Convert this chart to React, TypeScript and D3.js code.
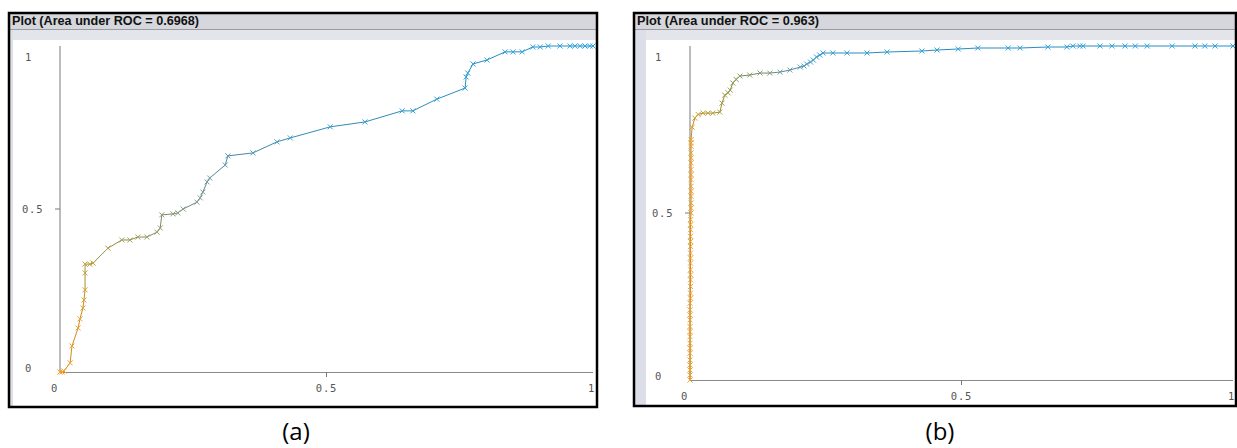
import React from 'react';
import * as d3 from 'd3';

// ROC points
const aFpr = [0, 0.004, 0.0075, 0.019, 0.0225, 0.034, 0.0375, 0.043, 0.045, 0.047, 0.047, 0.047, 0.056, 0.062, 0.09, 0.116, 0.131, 0.146, 0.163, 0.182, 0.188, 0.191, 0.212, 0.221, 0.231, 0.257, 0.263, 0.268, 0.276, 0.281, 0.31, 0.315, 0.362, 0.407, 0.432, 0.507, 0.572, 0.642, 0.662, 0.707, 0.76, 0.762, 0.765, 0.775, 0.801, 0.835, 0.85, 0.867, 0.887, 0.901, 0.916, 0.938, 0.957, 0.966, 0.976, 0.985, 0.994, 1];
const aTpr = [0, 0, 0.003, 0.028, 0.08, 0.135, 0.163, 0.196, 0.221, 0.252, 0.304, 0.331, 0.331, 0.334, 0.38, 0.405, 0.405, 0.414, 0.414, 0.429, 0.442, 0.482, 0.485, 0.488, 0.5, 0.521, 0.534, 0.552, 0.583, 0.595, 0.635, 0.663, 0.672, 0.706, 0.718, 0.752, 0.767, 0.801, 0.801, 0.837, 0.871, 0.905, 0.917, 0.945, 0.957, 0.982, 0.982, 0.982, 0.997, 0.997, 1, 1, 1, 1, 1, 1, 1, 1];

const bFpr = [
  0, 0, 0, 0, 0, 0, 0, 0, 0, 0, 0, 0, 0, 0, 0,
  0.001, 0.001, 0.001, 0.001, 0.001, 0.001, 0.001, 0.001, 0.001, 0.001, 0.001, 0.001, 0.001, 0.001, 0.001,
  0.002, 0.002, 0.002, 0.002, 0.002, 0.002, 0.002, 0.002, 0.002, 0.002, 0.002, 0.002, 0.002, 0.002, 0.002,
  0.004, 0.009, 0.015, 0.024, 0.033, 0.042, 0.055, 0.059, 0.064, 0.07, 0.074, 0.079, 0.085, 0.092, 0.11, 0.129, 0.147, 0.166, 0.184, 0.203, 0.21, 0.215, 0.222, 0.227, 0.233, 0.239, 0.245, 0.263, 0.289, 0.326, 0.363, 0.427, 0.455, 0.494, 0.53, 0.586, 0.608, 0.659, 0.694, 0.705, 0.718, 0.724, 0.755, 0.777, 0.801, 0.82, 0.842, 0.888, 0.93, 0.948, 0.967, 1
];
const bTpr = [
  0, 0.015, 0.03, 0.045, 0.06, 0.08, 0.095, 0.11, 0.13, 0.145, 0.16, 0.18, 0.195, 0.21, 0.23,
  0.245, 0.26, 0.28, 0.3, 0.315, 0.33, 0.35, 0.365, 0.38, 0.4, 0.415, 0.43, 0.45, 0.465, 0.48,
  0.5, 0.515, 0.53, 0.55, 0.565, 0.58, 0.6, 0.615, 0.63, 0.65, 0.665, 0.68, 0.7, 0.71, 0.72,
  0.757, 0.784, 0.795, 0.799, 0.799, 0.799, 0.802, 0.829, 0.853, 0.86, 0.868, 0.889, 0.9, 0.91, 0.913, 0.919, 0.919, 0.922, 0.928, 0.937, 0.94, 0.946, 0.952, 0.958, 0.967, 0.973, 0.979, 0.979, 0.979, 0.979, 0.982, 0.985, 0.988, 0.991, 0.994, 0.994, 0.994, 0.997, 0.997, 1, 1, 1, 1, 1, 1, 1, 1, 1, 1, 1, 1, 1
];

const titles = ['Plot (Area under ROC = 0.6968)', 'Plot (Area under ROC = 0.963)'];
const captions = ['(a)', '(b)'];
const tickValues = [0, 0.5, 1];
const tickLabels = ['0', '0.5', '1'];

const panels = [
  {
    fpr: aFpr, tpr: aTpr, title: titles[0], caption: captions[0],
    frame: { x0: 9, y0: 13, x1: 597, y1: 407, strip: 4 },
    plot: { left: 60, right: 593, top: 46, bottom: 372 },
    captionX: 296, titleLen: 187,
    colorDomain: [0, 0.2, 0.38, 0.5, 0.7, 0.98, 1.25, 2],
    colorRange: ['#f5a020', '#eca22a', '#c4a23c', '#aaa052', '#8e9e80', '#5e9cb4', '#3c9fd2', '#2ba3e2'],
  },
  {
    fpr: bFpr, tpr: bTpr, title: titles[1], caption: captions[1],
    frame: { x0: 634, y0: 13, x1: 1236, y1: 406, strip: 12 },
    plot: { left: 690, right: 1233, top: 46, bottom: 380 },
    captionX: 940, titleLen: 182,
    colorDomain: [0, 0.72, 0.79, 0.85, 0.97, 1.07, 1.14, 1.22, 2],
    colorRange: ['#f5a020', '#f2a022', '#d4a230', '#b8a23e', '#949c52', '#7e9e80', '#58a0b6', '#34a0d6', '#2ba3e2'],
  },
];

const cross = 'M-2.5,-2.5L2.5,2.5M-2.5,2.5L2.5,-2.5';

const Panel = ({ p }: { p: any }) => {
  const { frame, plot } = p;
  const x = d3.scaleLinear().domain([0, 1]).range([plot.left, plot.right]);
  const y = d3.scaleLinear().domain([0, 1]).range([plot.bottom, plot.top]);
  const color = d3.scaleLinear<string>().domain(p.colorDomain).range(p.colorRange).interpolate(d3.interpolateRgb);
  const pts = p.fpr.map((f: number, i: number) => ({ f, t: p.tpr[i], c: color(f + p.tpr[i]) }));
  const tickFont = { fontFamily: 'DejaVu Sans Mono', fontSize: 10.5, fill: '#555', letterSpacing: 0.8 };

  // x tick label placement: first left of origin, middle centred, last right-aligned at the edge
  const xLabelX = (i: number, v: number) => (i === 0 ? x(v) - 9 : i === 1 ? x(v) : x(v) + 2);
  const xAnchor = (i: number) => (i === 0 ? 'start' : i === 1 ? 'middle' : 'end');

  return (
    <g>
      {/* window chrome */}
      <rect x={frame.x0} y={frame.y0} width={frame.x1 - frame.x0} height={frame.y1 - frame.y0} fill="#fff" />
      <rect x={frame.x0} y={frame.y0} width={frame.x1 - frame.x0} height={16} fill="#d5d7dc" />
      <line x1={frame.x0} x2={frame.x1} y1={frame.y0 + 16.5} y2={frame.y0 + 16.5} stroke="#9a9ca2" />
      <rect x={frame.x0} y={frame.y0 + 17} width={frame.x1 - frame.x0} height={10} fill="#e3e5ea" />
      <rect x={frame.x0} y={frame.y0 + 17} width={frame.strip} height={frame.y1 - frame.y0 - 17} fill="#dcdfe7" />
      <text x={frame.x0 + 3} y={frame.y0 + 12} fontFamily="Liberation Sans, Arial" fontWeight="bold" fontSize={13.5}
        textLength={p.titleLen} lengthAdjust="spacingAndGlyphs" fill="#111">{p.title}</text>

      {/* axes */}
      <line x1={x(0)} x2={x(0)} y1={y(1)} y2={y(0)} stroke="#7a7a7a" />
      <line x1={x(0)} x2={x(1)} y1={y(0) + 0.5} y2={y(0) + 0.5} stroke="#8a8a8a" />
      <line x1={x(0.5)} x2={x(0.5)} y1={y(0)} y2={y(0) + 5} stroke="#777" />
      <line x1={x(0) - 5} x2={x(0)} y1={y(0.5)} y2={y(0.5)} stroke="#777" />
      {tickValues.map((v, i) => (
        <text key={'x' + i} x={xLabelX(i, v)} y={y(0) + 20} textAnchor={xAnchor(i)} style={tickFont}>{tickLabels[i]}</text>
      ))}
      {tickValues.map((v, i) => (
        <text key={'y' + i} x={i === 1 ? x(0) - 38 : x(0) - 35} y={i === 2 ? y(v) + 15 : i === 0 ? y(v) : y(v) + 4} style={tickFont}>{tickLabels[i]}</text>
      ))}

      {/* curve */}
      {pts.slice(1).map((d: any, i: number) => (
        <line key={'s' + i} x1={x(pts[i].f)} y1={y(pts[i].t)} x2={x(d.f)} y2={y(d.t)}
          stroke={d3.color(d.c)!.darker(0.4).toString()} strokeWidth={1} />
      ))}
      {pts.map((d: any, i: number) => (
        <path key={'m' + i} d={cross} transform={`translate(${x(d.f)},${y(d.t)})`} stroke={d.c} strokeWidth={1} fill="none" />
      ))}

      <rect x={frame.x0} y={frame.y0} width={frame.x1 - frame.x0} height={frame.y1 - frame.y0} fill="none" stroke="#000" strokeWidth={2.5} />

      <text x={p.captionX} y={440} textAnchor="middle" fontFamily="Open Sans" fontSize={24} fill="#000">{p.caption}</text>
    </g>
  );
};

export default function App() {
  return (
    <svg width={1237} height={448} style={{ position: 'absolute', left: 0, top: 0, background: '#fff' }}>
      {panels.map((p, i) => <Panel key={i} p={p} />)}
    </svg>
  );
}
